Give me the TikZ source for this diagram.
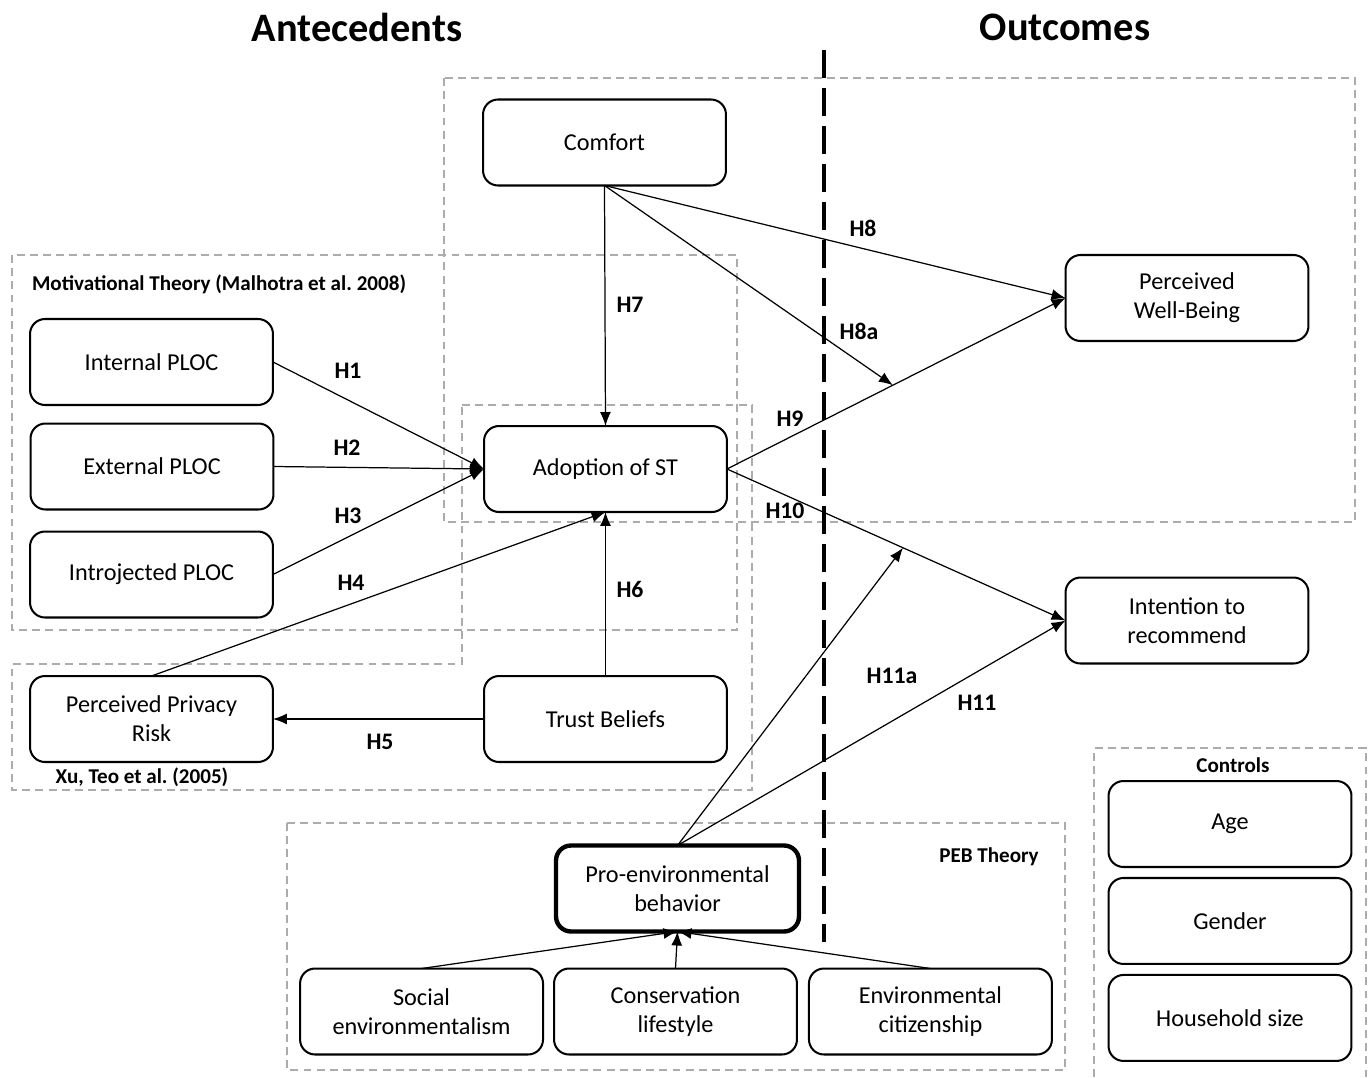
\documentclass[tikz,border=0pt]{standalone}
\usepackage{fontspec}
\setmainfont{Carlito}
\frenchspacing
\usetikzlibrary{arrows.meta,positioning,calc}
\tikzset{
  box/.style={draw,rounded corners=0.3cm,align=center,line width=1.15pt,
    minimum width=4.86cm,minimum height=1.72cm,inner sep=2pt,outer sep=0pt,
    font=\fontsize{13.8}{16.5}\selectfont},
  pebox/.style={box,line width=2.5pt},
  hyp/.style={font=\fontsize{13.5}{16}\selectfont\bfseries},
  grp/.style={font=\fontsize{12}{14}\selectfont\bfseries},
  head/.style={font=\fontsize{23}{28}\selectfont\bfseries},
  zone/.style={draw=gray!65,dash pattern=on 4.5pt off 3pt,line width=0.8pt},
  link/.style={-{Latex[length=0.28cm,width=0.22cm]},line width=0.7pt},
  split/.style={line width=1.8pt,dash pattern=on 0.56cm off 0.2cm},
}
\begin{document}
\begin{tikzpicture}[x=0.02cm,y=-0.02cm]
\useasboundingbox (0,0) rectangle (1370,1078);
% headings
\node[head] (ante) at (357,27) {Antecedents};
\node[head] (outc) at (1065,27) {Outcomes};
% theory zones
\draw[zone] (444,78) rectangle (1355,522);
\draw[zone] (12,255) rectangle (737,630);
\draw[zone] (462,405) -- (752,405) -- (752,790) -- (12,790) -- (12,664) -- (462,664) -- cycle;
\draw[zone] (287,823) rectangle (1065,1070);
\draw[zone] (1094,1090) -- (1094,748) -- (1366,748) -- (1366,1090);
\node[grp] (motiv) at (219,284) {Motivational Theory (Malhotra et al. 2008)};
\node[grp] (xuteo) at (142,777) {Xu, Teo et al. (2005)};
\node[grp] (pebth) at (989,857) {PEB Theory};
\node[grp] (ctrl) at (1233,765) {Controls};
% antecedents / outcomes split
\draw[split] (824,50) -- (824,942);
% constructs
\node[box] (comf) at (604.5,142.5) {Comfort};
\node[box] (iplo) at (151.5,362) {Internal PLOC};
\node[box] (eplo) at (152,466.5) {External PLOC};
\node[box] (jplo) at (151.5,574.5) {Introjected PLOC};
\node[box] (adop) at (605.5,469) {Adoption of ST};
\node[box] (risk) at (151.5,719) {Perceived Privacy\\Risk};
\node[box] (trst) at (605.5,719) {Trust Beliefs};
\node[box] (well) at (1187,298) {Perceived\\Well-Being};
\node[box] (recm) at (1187,620.5) {Intention to\\recommend};
\node[pebox] (penv) at (677.5,888.5) {Pro-environmental\\behavior};
\node[box] (cons) at (675.5,1011.5) {Conservation\\lifestyle};
\node[box,left=0.22cm of cons] (soc) {Social\\environmentalism};
\node[box,right=0.24cm of cons] (citz) {Environmental\\citizenship};
% controls
\node[box] (age) at (1230,824) {Age};
\node[box,below=0.22cm of age] (gend) {Gender};
\node[box,below=0.22cm of gend] (hhs) {Household size};
% paths
\coordinate (m9) at ($(adop.east)!0.49!(well.west)$);
\coordinate (m10) at ($(adop.east)!0.52!(recm.west)$);
\draw[link] (iplo.east) -- (adop.west);
\draw[link] (eplo.east) -- (adop.west);
\draw[link] (jplo.east) -- (adop.west);
\draw[link] (risk.north) -- (adop.south);
\draw[link] (trst.west) -- (risk.east);
\draw[link] (trst.north) -- (adop.south);
\draw[link] (comf.south) -- (adop.north);
\draw[link] (comf.south) -- (well.west);
\draw[link] (comf.south) -- (m9);
\draw[link] (adop.east) -- (well.west);
\draw[link] (adop.east) -- (recm.west);
\draw[link] (penv.north) -- (m10);
\draw[link] (penv.north) -- (recm.west);
\draw[link] (soc.north) -- (penv.south);
\draw[link] (cons.north) -- (penv.south);
\draw[link] (citz.north) -- (penv.south);
% hypotheses
\node[hyp] (h1) at (348,371) {H1};
\node[hyp] (h2) at (347,448) {H2};
\node[hyp] (h3) at (348,516) {H3};
\node[hyp] (h4) at (351,583) {H4};
\node[hyp] (h5) at (380,742) {H5};
\node[hyp] (h6) at (630,589) {H6};
\node[hyp] (h7) at (630,305) {H7};
\node[hyp] (h8) at (863,228) {H8};
\node[hyp] (h8a) at (859,331) {H8a};
\node[hyp] (h9) at (790,419) {H9};
\node[hyp] (h10) at (785,511) {H10};
\node[hyp] (h11a) at (892,676) {H11a};
\node[hyp] (h11) at (977,703) {H11};
\end{tikzpicture}
\end{document}
